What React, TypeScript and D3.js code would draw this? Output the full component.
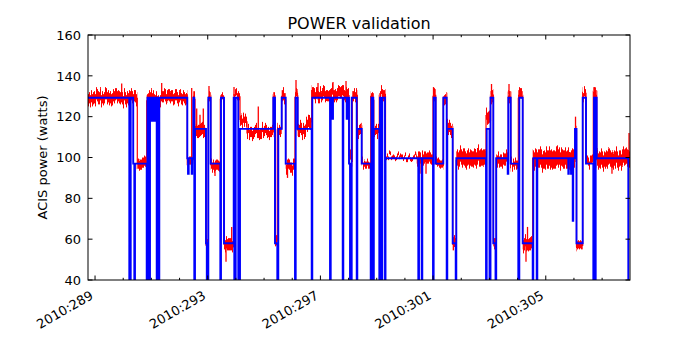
import React, { useEffect, useRef } from "react";
import * as d3 from "d3";

// model (blue): step starts in day-of-year, power in watts
const modelDay = [
  288.75, 290.216, 290.266, 290.355, 290.394, 290.418, 290.834, 290.862, 290.898, 290.926,
  290.951, 290.986, 291.011, 291.04, 291.068, 291.111, 291.139, 291.189, 291.217, 291.253,
  291.281, 292.275, 292.3, 292.325, 292.431, 292.449, 292.488, 292.523, 292.548, 292.939,
  292.967, 293.021, 293.106, 293.447, 293.471, 293.578, 293.922, 293.943, 293.993, 294.085,
  294.146, 295.328, 295.388, 295.47, 295.505, 295.626, 295.768, 296.098, 296.123, 296.194,
  296.691, 296.712, 297.341, 297.366, 297.422, 297.447, 297.792, 297.813, 297.933, 297.955,
  298.015, 298.051, 298.111, 298.289, 298.31, 298.466, 298.786, 298.814, 298.878, 298.896,
  299.091, 299.116, 299.176, 299.197, 299.293, 299.311, 300.475, 300.5, 300.596, 300.617,
  300.997, 301.02, 301.093, 301.363, 301.483, 301.504, 301.696, 301.803, 301.824, 302.879,
  302.903, 303.003, 303.038, 303.138, 303.216, 303.241, 303.649, 303.67, 303.756, 304.025,
  304.061, 304.181, 304.536, 304.557, 304.678, 304.7, 305.8, 305.818, 305.896, 305.914,
  305.957, 305.975, 306.038, 306.091, 306.311, 306.428, 306.688, 306.713, 306.748, 306.772,
  306.808, 307.93, 307.99,
];
const modelPower = [
  129.3, 0, 129.3, 97, 0, 97, 0, 129.3, 118, 0,
  129.3, 118, 129.3, 118, 129.3, 118, 129.3, 0, 129.3, 0,
  129.3, 99.6, 92, 99.6, 92, 99.6, 129.3, 0, 114, 58,
  0, 129.3, 97, 0, 129.3, 58, 129.3, 0, 129.3, 0,
  114, 129.3, 58, 0, 114, 129.3, 97, 0, 129.3, 114,
  0, 129.3, 0, 129.3, 119, 129.3, 0, 129.3, 119, 129.3,
  97, 0, 129.3, 0, 114, 97, 0, 129.3, 0, 114,
  0, 129.3, 0, 129.3, 0, 99.6, 0, 99.6, 0, 99.6,
  0, 129.3, 97, 129.3, 0, 114, 58, 0, 99.6, 0,
  114, 0, 129.3, 58, 0, 99.6, 92, 129.3, 97, 0,
  129.3, 58, 0, 99.6, 0, 99.6, 92, 99.6, 92, 99.6,
  69, 99.6, 114, 58, 129.3, 97, 0, 129.3, 0, 129.3,
  99.6, 0, 0,
];

// telemetry (red): segment starts with the noise envelope seen in each
const telemDay = [
  288.75, 290.5, 290.834, 291.306, 292.275, 292.488, 292.548, 292.939, 293.021, 293.106,
  293.447, 293.578, 293.933, 294.146, 294.394, 295.328, 295.388, 295.47, 295.626, 295.768,
  296.098, 296.194, 296.489, 296.691, 298.015, 298.132, 298.31, 298.466, 298.786, 298.896,
  299.091, 299.311, 300.419, 300.997, 301.093, 301.363, 301.483, 301.696, 301.824, 302.879,
  303.038, 303.138, 303.241, 303.67, 303.756, 304.025, 304.181, 304.536, 306.038, 306.091,
  306.311, 306.428, 306.688, 306.808, 307.99,
];
const telemLow = [
  126.5, 94, 126, 127, 96, 126, 110, 56, 127, 94,
  127, 54.5, 128.5, 116, 110, 127.5, 56, 111, 127, 94,
  128, 110, 113, 128, 97, 128, 111, 95, 127, 111,
  128, 99.2, 96.5, 127, 96, 127, 111, 55, 96, 117,
  128, 55, 96, 128, 95, 128, 54.5, 95, 111, 55,
  128, 96, 128, 95,
];
const telemHigh = [
  132.5, 99, 131.5, 132.5, 100, 131, 116, 61, 132, 99,
  131, 60.5, 132, 121, 115, 132, 61, 116, 133, 99,
  132, 116, 119, 133.5, 102, 133, 116, 98.5, 132, 116,
  133, 101, 102, 133, 100, 132, 117, 61, 104, 123,
  134, 61, 102, 134, 99, 133, 60.5, 104, 117, 59,
  133, 100, 133, 103,
];

// isolated telemetry spikes
const spikeDay = [
  289.946, 291.366, 292.431, 292.609, 292.726, 292.843, 293.045, 293.258, 293.649, 293.851,
  293.933, 294.795, 295.832, 296.134, 296.915, 297.447, 297.909, 300.536, 300.749, 301.015,
  303.074, 303.695, 304.298, 304.352, 306.056, 306.748, 307.35, 307.955,
];
const spikePower = [
  136.3, 136.5, 134, 124, 121, 124, 135, 91, 49, 66,
  134.5, 125, 90, 138, 136.5, 137, 137.5, 92, 92, 134.5,
  136, 136, 49, 66, 120, 134.5, 92, 112,
];

const xMajor = [289, 293, 297, 301, 305];
const xLabels = ["2010:289", "2010:293", "2010:297", "2010:301", "2010:305"];
const xMinor = d3.range(289, 308);
const yTicks = [40, 60, 80, 100, 120, 140, 160];

const W = 700;
const H = 350;
const m = { left: 88, right: 630, top: 35, bottom: 280 };
const font = "DejaVu Sans, sans-serif";

export default function App() {
  const svgRef = useRef<SVGSVGElement>(null);

  useEffect(() => {
    const svg = d3.select(svgRef.current);
    svg.selectAll("*").remove();

    const x = d3.scaleLinear().domain([288.75, 307.99]).range([m.left, m.right]);
    const y = d3.scaleLinear().domain([40, 160]).range([m.bottom, m.top]);

    const defs = svg.append("defs");
    defs.append("clipPath").attr("id", "plot")
      .append("rect")
      .attr("x", m.left).attr("y", m.top)
      .attr("width", m.right - m.left).attr("height", m.bottom - m.top);

    // roughen the telemetry band edges (vertical-only jitter)
    const f = defs.append("filter").attr("id", "noisy")
      .attr("filterUnits", "userSpaceOnUse")
      .attr("x", 0).attr("y", 0).attr("width", W).attr("height", H);
    f.append("feTurbulence").attr("type", "fractalNoise")
      .attr("baseFrequency", "0.9 0.004").attr("numOctaves", 2).attr("seed", 3)
      .attr("result", "turb");
    f.append("feColorMatrix").attr("in", "turb").attr("type", "matrix")
      .attr("values", "0 0 0 0 0.5  0 1 0 0 0  0 0 0 0 0.5  0 0 0 0 1")
      .attr("result", "map");
    f.append("feDisplacementMap").attr("in", "SourceGraphic").attr("in2", "map")
      .attr("scale", 16).attr("xChannelSelector", "R").attr("yChannelSelector", "G");

    const g = svg.append("g").attr("clip-path", "url(#plot)");
    const red = g.append("g").attr("filter", "url(#noisy)");

    // telemetry band
    const segs = telemLow.map((lo, i) => ({
      x0: telemDay[i], x1: telemDay[i + 1], lo, hi: telemHigh[i],
    }));
    red.selectAll(".band").data(segs).join("rect")
      .attr("x", (d) => x(d.x0))
      .attr("width", (d) => x(d.x1) - x(d.x0))
      .attr("y", (d) => y(d.hi))
      .attr("height", (d) => y(d.lo) - y(d.hi))
      .attr("fill", "#ff0000");

    // telemetry centre line (joins the levels)
    const mid = segs.map((d) => [d.x0, (d.lo + d.hi) / 2] as [number, number]);
    mid.push([telemDay[telemDay.length - 1], mid[mid.length - 1][1]]);
    red.append("path")
      .attr("d", d3.line().x((d) => x(d[0])).y((d) => y(d[1])).curve(d3.curveStepAfter)(mid))
      .attr("fill", "none").attr("stroke", "#ff0000").attr("stroke-width", 1.2);

    // spikes
    const spikes = spikeDay.map((t, i) => {
      const s = segs.find((d) => t >= d.x0 && t < d.x1) || segs[segs.length - 1];
      return { t, v: spikePower[i], base: (s.lo + s.hi) / 2 };
    });
    g.selectAll(".spike").data(spikes).join("line")
      .attr("x1", (d) => x(d.t)).attr("x2", (d) => x(d.t))
      .attr("y1", (d) => y(d.base)).attr("y2", (d) => y(d.v))
      .attr("stroke", "#ff0000").attr("stroke-width", 1.3);

    // model step line
    const model = modelDay.map((t, i) => [t, modelPower[i]] as [number, number]);
    g.append("path")
      .attr("d", d3.line().x((d) => x(d[0])).y((d) => y(d[1])).curve(d3.curveStepAfter)(model))
      .attr("fill", "none").attr("stroke", "#0000ff").attr("stroke-width", 1.9);

    // frame
    svg.append("rect")
      .attr("x", m.left).attr("y", m.top)
      .attr("width", m.right - m.left).attr("height", m.bottom - m.top)
      .attr("fill", "none").attr("stroke", "#000").attr("stroke-width", 1);

    // ticks (inside, all sides)
    const tk = svg.append("g").attr("stroke", "#000").attr("stroke-width", 1);
    xMinor.forEach((d) => {
      const len = xMajor.includes(d) ? 4.5 : 2.2;
      tk.append("line").attr("x1", x(d)).attr("x2", x(d)).attr("y1", m.bottom).attr("y2", m.bottom - len);
      tk.append("line").attr("x1", x(d)).attr("x2", x(d)).attr("y1", m.top).attr("y2", m.top + len);
    });
    yTicks.forEach((d) => {
      tk.append("line").attr("x1", m.left).attr("x2", m.left + 4.5).attr("y1", y(d)).attr("y2", y(d));
      tk.append("line").attr("x1", m.right).attr("x2", m.right - 4.5).attr("y1", y(d)).attr("y2", y(d));
    });

    // tick labels
    svg.selectAll(".ylab").data(yTicks).join("text")
      .attr("x", m.left - 7).attr("y", (d) => y(d)).attr("dy", "0.36em")
      .attr("text-anchor", "end").attr("font-family", font).attr("font-size", 13)
      .text((d) => d);

    svg.selectAll(".xlab").data(xMajor).join("text")
      .attr("transform", (d) => `translate(${x(d) - 1},${m.bottom + 18}) rotate(-30)`)
      .attr("text-anchor", "end").attr("font-family", font).attr("font-size", 13)
      .text((d, i) => xLabels[i]);

    svg.append("text")
      .attr("x", (m.left + m.right) / 2).attr("y", 29)
      .attr("text-anchor", "middle").attr("font-family", font).attr("font-size", 16)
      .text("POWER validation");

    svg.append("text")
      .attr("transform", `translate(46.5,${(m.top + m.bottom) / 2}) rotate(-90)`)
      .attr("text-anchor", "middle").attr("font-family", font).attr("font-size", 13)
      .text("ACIS power (watts)");
  }, []);

  return (
    <svg ref={svgRef} width={W} height={H}
      style={{ position: "absolute", left: 0, top: 0, background: "#fff" }} />
  );
}
